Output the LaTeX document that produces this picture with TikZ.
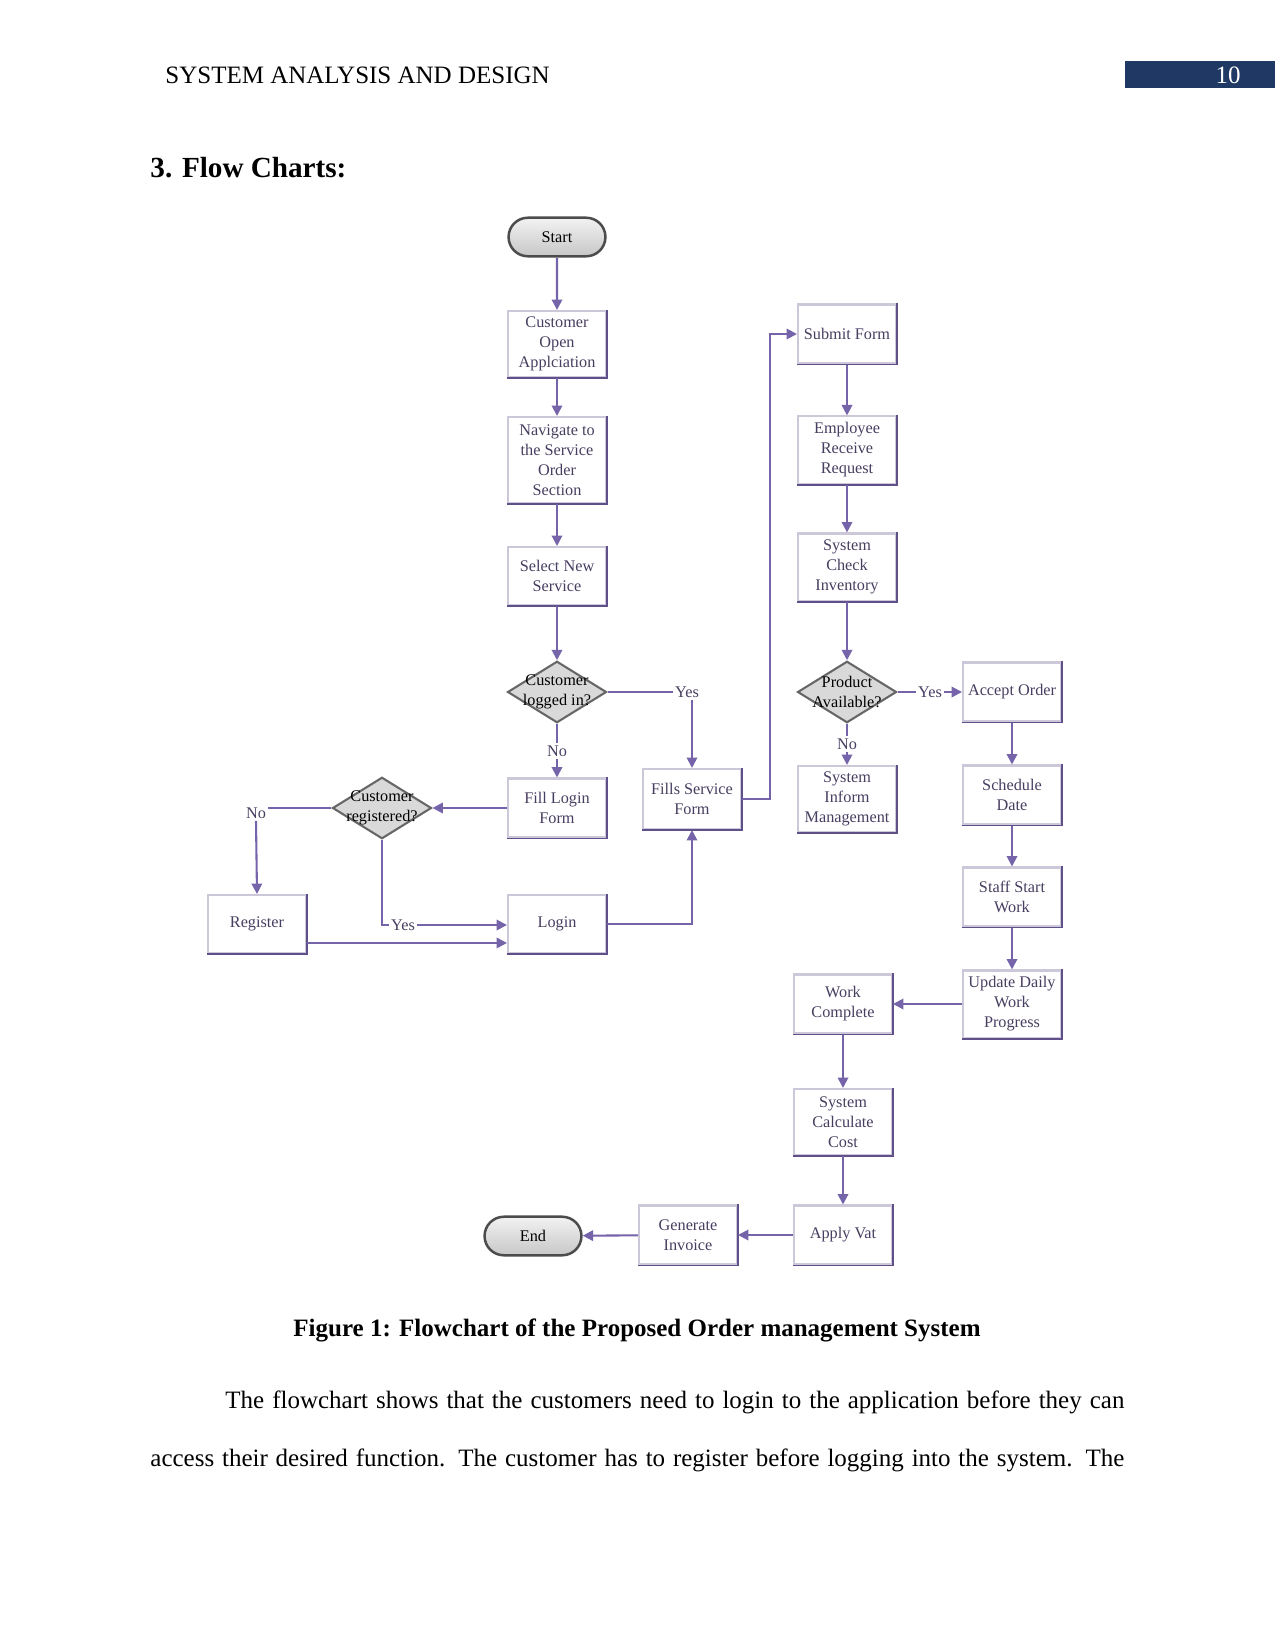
\documentclass[tikz,border=0pt]{standalone}
\usepackage{fontspec}
\setmainfont{Liberation Serif}
\usetikzlibrary{shapes.geometric,shapes.misc,arrows.meta}
\definecolor{arrcol}{RGB}{118,100,170}
\definecolor{boxline}{RGB}{204,200,218}
\definecolor{boxdark}{RGB}{96,80,138}
\definecolor{boxtext}{RGB}{72,62,96}
\definecolor{navy}{RGB}{31,56,100}
\newcommand{\zl}[1]{\makebox[0pt]{#1}}
\tikzset{
  chartfont/.style={font=\fontsize{7.8}{9.6}\selectfont},
  procbox/.style={rectangle, draw=boxline, line width=1pt, fill=white, chartfont, text=boxtext,
    align=center, minimum width=47pt, inner sep=0pt},
  decis/.style={diamond, draw=black!60, fill=black!15, line width=1pt, chartfont, text=black,
    align=center, minimum width=47.5pt, minimum height=29.5pt, inner sep=0pt, aspect=1.6},
  termin/.style={rounded rectangle, draw=black!70, line width=1.2pt, top color=black!5,
    bottom color=black!22, chartfont, text=black, minimum width=46.5pt, minimum height=18.5pt, inner sep=0pt},
  lbl/.style={chartfont, text=boxtext, inner sep=1pt},
  arr/.style={draw=arrcol, line width=1pt, -{Triangle[width=5pt,length=5pt]}},
  plain/.style={draw=arrcol, line width=1pt},
}
\begin{document}
\begin{tikzpicture}[x=0.48pt,y=-0.48pt]
\useasboundingbox[fill=white] (0,0) rectangle (1275,1650);
% header
\node[anchor=west, font=\fontsize{12}{14}\selectfont, inner sep=0pt] (hdr) at (165,75) {SYSTEM ANALYSIS AND DESIGN};
\fill[navy] (1125,61) rectangle (1275,88);
\node[font=\fontsize{12}{14}\selectfont, text=white, inner sep=0pt] (pg) at (1228,75) {10};
\node[anchor=west, font=\fontsize{14}{16}\selectfont\bfseries, inner sep=0pt] (sec) at (150,168) {3. Flow Charts:};

% nodes
\node[termin] (start) at (557,237) {Start};
\node[procbox, minimum height=31.7pt] (coa) at (557,344) {Customer\\Open\\Applciation};
\node[procbox, minimum height=41.3pt] (nav) at (557,460) {Navigate to\\the Service\\Order\\Section};
\node[procbox, minimum height=27.8pt] (sel) at (557,576) {Select New\\Service};
\node[decis] (dlog) at (557,692) {\zl{Customer}\\\zl{logged in?}};
\node[procbox, minimum height=28.3pt] (fill) at (557,808) {Fill Login\\Form};
\node[procbox, minimum height=28.8pt] (fsf) at (692,799) {Fills Service\\Form};
\node[decis] (dreg) at (382,808) {\zl{Customer}\\\zl{registered?}};
\node[procbox, minimum height=27.8pt] (reg) at (257,924) {Register};
\node[procbox, minimum height=27.8pt] (login) at (557,924) {Login};
\node[procbox, minimum height=28.3pt] (sub) at (847,334) {Submit Form};
\node[procbox, minimum height=32.2pt] (emp) at (847,450) {Employee\\Receive\\Request};
\node[procbox, minimum height=32.2pt] (sci) at (847,567) {System\\Check\\Inventory};
\node[decis] (dprod) at (847,692) {\zl{Product}\\\zl{Available?}};
\node[procbox, minimum height=31.7pt] (sim) at (847,799) {System\\Inform\\Management};
\node[procbox, minimum height=28.3pt] (acc) at (1012,692) {Accept Order};
\node[procbox, minimum height=28.3pt] (sch) at (1012,795) {Schedule\\Date};
\node[procbox, minimum height=28.3pt] (ssw) at (1012,897) {Staff Start\\Work};
\node[procbox, minimum height=32.2pt] (upd) at (1012,1004) {Update Daily\\Work\\Progress};
\node[procbox, minimum height=28.3pt] (wc) at (843,1004) {Work\\Complete};
\node[procbox, minimum height=31.7pt] (scc) at (843,1122) {System\\Calculate\\Cost};
\node[procbox, minimum height=28.3pt] (vat) at (843,1235) {Apply Vat};
\node[procbox, minimum height=28.3pt] (inv) at (688,1235) {Generate\\Invoice};
\node[termin] (end) at (533,1236) {End};

% darker right/bottom edges of process boxes
\foreach \n in {coa,nav,sel,fill,fsf,reg,login,sub,emp,sci,sim,acc,sch,ssw,upd,wc,scc,vat,inv}
  \draw[boxdark, line width=0.9pt] (\n.north east) -- (\n.south east) -- (\n.south west);

% labels
\node[lbl] (lno1) at (557,751) {No};
\node[lbl] (lyes1) at (687,692) {Yes};
\node[lbl] (lno2) at (256,813) {No};
\node[lbl] (lyes2) at (403,925) {Yes};
\node[lbl] (lno3) at (847,744) {No};
\node[lbl] (lyes3) at (930,692) {Yes};

% connectors
\draw[arr] (start) -- (coa);
\draw[arr] (coa) -- (nav);
\draw[arr] (nav) -- (sel);
\draw[arr] (sel) -- (dlog);
\draw[plain] (dlog.south) -- (lno1.north);
\draw[arr] (lno1.south) -- (fill.north);
\draw[plain] (dlog.east) -- (lyes1.west);
\draw[arr] (lyes1.south -| fsf.north) -- (fsf.north);
\draw[arr] (fill.west) -- (dreg.east);
\draw[plain] (dreg.west) -- (dreg.west -| lno2.east);
\draw[arr] (lno2.south) -- (reg.north);
\draw[plain] (dreg.south) |- (lyes2.west);
\draw[arr] (lyes2.east) -- (login.west |- lyes2.east);
\draw[arr] ([yshift=-9.1pt]reg.east) -- ([yshift=-9.1pt]login.west);
\draw[arr] (login.east) -| (fsf.south);
\draw[arr] (fsf.east) -- ++(28,0) |- (sub.west);
\draw[arr] (sub) -- (emp);
\draw[arr] (emp) -- (sci);
\draw[arr] (sci) -- (dprod);
\draw[plain] (dprod.south) -- (lno3.north);
\draw[arr] (lno3.south) -- (sim.north);
\draw[plain] (dprod.east) -- (lyes3.west);
\draw[arr] (lyes3.east) -- (acc.west);
\draw[arr] (acc) -- (sch);
\draw[arr] (sch) -- (ssw);
\draw[arr] (ssw) -- (upd);
\draw[arr] (upd) -- (wc);
\draw[arr] (wc) -- (scc);
\draw[arr] (scc) -- (vat);
\draw[arr] (vat) -- (inv);
\draw[arr] (inv) -- (end);

% caption and text
\node[anchor=base, font=\fontsize{12}{14}\selectfont\bfseries, inner sep=0pt] (cap) at (637,1336)
  {Figure 1: Flowchart of the Proposed Order management System};
\node[anchor=base west, font=\fontsize{12}{14}\selectfont, inner sep=0pt] (p1) at (225,1408)
  {\makebox[431.5pt][s]{The flowchart shows that the customers need to login to the application before they can}};
\node[anchor=base west, font=\fontsize{12}{14}\selectfont, inner sep=0pt] (p2) at (150,1466)
  {\makebox[467.5pt][s]{access their desired function. The customer has to register before logging into the system. The}};
\end{tikzpicture}
\end{document}
